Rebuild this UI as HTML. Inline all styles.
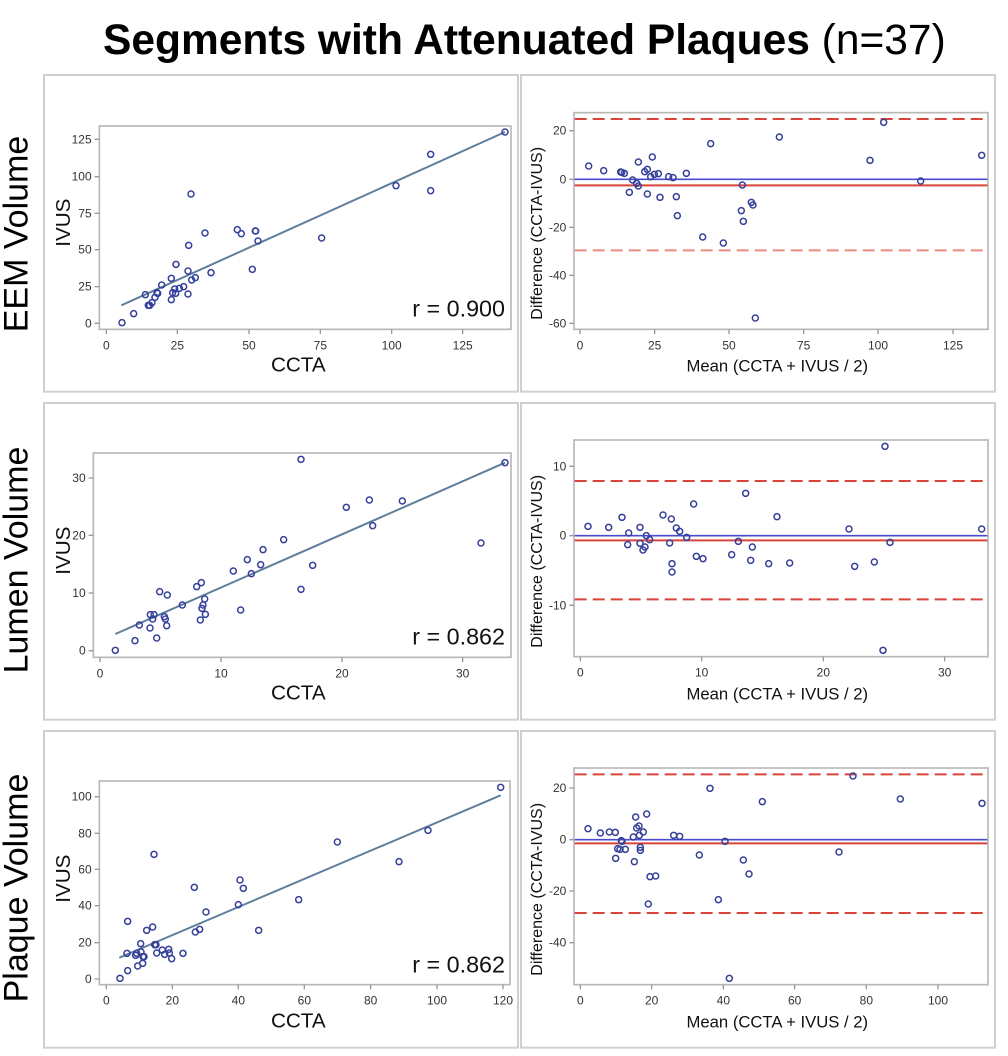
<!DOCTYPE html>
<html><head><meta charset="utf-8"><style>
html,body{margin:0;padding:0;background:#fff;}
body{width:1008px;height:1056px;position:relative;overflow:hidden;font-family:"Liberation Sans",Arial,sans-serif;}
.title{position:absolute;left:103px;top:16px;font-size:42.5px;white-space:nowrap;color:#000;line-height:50px;}
.rl{position:absolute;font-size:34px;white-space:nowrap;transform:translate(-50%,-50%) rotate(-90deg);color:#000;}
svg.p{position:absolute;}
</style></head><body>
<div class="title"><b>Segments with Attenuated Plaques</b> (n=37)</div>
<div class="rl" style="left:17px;top:234px">EEM Volume</div>
<div class="rl" style="left:17px;top:560px">Lumen Volume</div>
<div class="rl" style="left:17px;top:888px">Plaque Volume</div>

<!-- Row 1 -->
<svg class="p" id="L1" style="left:40px;top:70px" width="480" height="330" viewBox="0 0 1440 990" font-family="Liberation Sans, sans-serif">
<rect x="12" y="15" width="1422" height="950" fill="none" stroke="#d0d0d0" stroke-width="6"/>
<rect x="178" y="168" width="1235" height="610" fill="none" stroke="#b8b8b8" stroke-width="5"/>
<g font-size="36" fill="#333" text-anchor="end">
<text x="155" y="220">125</text><text x="155" y="332">100</text><text x="155" y="442">75</text><text x="155" y="551">50</text><text x="155" y="662">25</text><text x="155" y="772">0</text></g>
<g stroke="#999" stroke-width="4"><path d="M164 208H178M164 320H178M164 430H178M164 539H178M164 650H178M164 760H178"/>
<path d="M199 778V792M412 778V792M627 778V792M841 778V792M1055 778V792M1268 778V792"/></g>
<g font-size="36" fill="#333" text-anchor="middle"><text x="199" y="838">0</text><text x="412" y="838">25</text><text x="627" y="838">50</text><text x="841" y="838">75</text><text x="1055" y="838">100</text><text x="1268" y="838">125</text></g>
<text x="775" y="905" font-size="62" text-anchor="middle" fill="#111">CCTA</text>
<text transform="translate(90,458) rotate(-90)" font-size="62" text-anchor="middle" fill="#111">IVUS</text>
<text x="1395" y="740" font-size="70" text-anchor="end" fill="#111">r = 0.900</text>
<line x1="244" y1="706" x2="1395" y2="186" stroke="#5f7f9c" stroke-width="6"/>
<g class="pts"></g></svg>

<svg class="p" id="R1" style="left:518px;top:70px" width="490" height="330" viewBox="0 0 1470 990" font-family="Liberation Sans, sans-serif">
<rect x="9" y="15" width="1422" height="950" fill="none" stroke="#d0d0d0" stroke-width="6"/>
<rect x="168" y="128" width="1242" height="650" fill="none" stroke="#b8b8b8" stroke-width="5"/>
<g font-size="36" fill="#333" text-anchor="end"><text x="145" y="194">20</text><text x="145" y="340">0</text><text x="145" y="484">-20</text><text x="145" y="628">-40</text><text x="145" y="772">-60</text></g>
<g stroke="#999" stroke-width="4"><path d="M154 182H168M154 328H168M154 472H168M154 616H168M154 760H168"/>
<path d="M186 778V792M410 778V792M633 778V792M857 778V792M1080 778V792M1305 778V792"/></g>
<g font-size="36" fill="#333" text-anchor="middle"><text x="186" y="838">0</text><text x="410" y="838">25</text><text x="633" y="838">50</text><text x="857" y="838">75</text><text x="1080" y="838">100</text><text x="1305" y="838">125</text></g>
<text x="778" y="905" font-size="50" text-anchor="middle" fill="#111">Mean (CCTA + IVUS / 2)</text>
<text transform="translate(72,490) rotate(-90)" font-size="48" text-anchor="middle" fill="#111">Difference (CCTA-IVUS)</text>
<line x1="170" y1="147" x2="1408" y2="147" stroke="#d9443a" stroke-width="6" stroke-dasharray="36 18"/>
<line x1="170" y1="541" x2="1408" y2="541" stroke="#ea8b82" stroke-width="6" stroke-dasharray="36 18"/>
<line x1="170" y1="328" x2="1408" y2="328" stroke="#4a4ad0" stroke-width="5"/>
<line x1="170" y1="346" x2="1408" y2="346" stroke="#d9443a" stroke-width="6"/>
<g class="pts"></g></svg>

<!-- Row 2 -->
<svg class="p" id="L2" style="left:40px;top:398px" width="480" height="330" viewBox="0 0 1440 990" font-family="Liberation Sans, sans-serif">
<rect x="12" y="15" width="1422" height="950" fill="none" stroke="#d0d0d0" stroke-width="6"/>
<rect x="160" y="165" width="1253" height="613" fill="none" stroke="#b8b8b8" stroke-width="5"/>
<g font-size="36" fill="#333" text-anchor="end"><text x="137" y="252">30</text><text x="137" y="424">20</text><text x="137" y="597">10</text><text x="137" y="770">0</text></g>
<g stroke="#999" stroke-width="4"><path d="M146 240H160M146 412H160M146 585H160M146 758H160"/>
<path d="M180 778V792M543 778V792M906 778V792M1268 778V792"/></g>
<g font-size="36" fill="#333" text-anchor="middle"><text x="180" y="838">0</text><text x="543" y="838">10</text><text x="906" y="838">20</text><text x="1268" y="838">30</text></g>
<text x="775" y="905" font-size="62" text-anchor="middle" fill="#111">CCTA</text>
<text transform="translate(90,458) rotate(-90)" font-size="62" text-anchor="middle" fill="#111">IVUS</text>
<text x="1395" y="740" font-size="70" text-anchor="end" fill="#111">r = 0.862</text>
<line x1="226" y1="708" x2="1395" y2="194" stroke="#5f7f9c" stroke-width="6"/>
<g class="pts"></g></svg>

<svg class="p" id="R2" style="left:518px;top:398px" width="490" height="330" viewBox="0 0 1470 990" font-family="Liberation Sans, sans-serif">
<rect x="9" y="15" width="1422" height="950" fill="none" stroke="#d0d0d0" stroke-width="6"/>
<rect x="168" y="126" width="1242" height="650" fill="none" stroke="#b8b8b8" stroke-width="5"/>
<g font-size="36" fill="#333" text-anchor="end"><text x="145" y="217">10</text><text x="145" y="425">0</text><text x="145" y="634">-10</text></g>
<g stroke="#999" stroke-width="4"><path d="M154 205H168M154 413H168M154 622H168"/>
<path d="M187 776V790M551 776V790M916 776V790M1280 776V790"/></g>
<g font-size="36" fill="#333" text-anchor="middle"><text x="187" y="836">0</text><text x="551" y="836">10</text><text x="916" y="836">20</text><text x="1280" y="836">30</text></g>
<text x="778" y="905" font-size="50" text-anchor="middle" fill="#111">Mean (CCTA + IVUS / 2)</text>
<text transform="translate(72,490) rotate(-90)" font-size="48" text-anchor="middle" fill="#111">Difference (CCTA-IVUS)</text>
<line x1="170" y1="249" x2="1408" y2="249" stroke="#d9443a" stroke-width="6" stroke-dasharray="36 18"/>
<line x1="170" y1="604" x2="1408" y2="604" stroke="#d9443a" stroke-width="6" stroke-dasharray="36 18"/>
<line x1="170" y1="413" x2="1408" y2="413" stroke="#4a4ad0" stroke-width="5"/>
<line x1="170" y1="427" x2="1408" y2="427" stroke="#d9443a" stroke-width="6"/>
<g class="pts"></g></svg>

<!-- Row 3 -->
<svg class="p" id="L3" style="left:40px;top:726px" width="480" height="330" viewBox="0 0 1440 990" font-family="Liberation Sans, sans-serif">
<rect x="12" y="15" width="1422" height="950" fill="none" stroke="#d0d0d0" stroke-width="6"/>
<rect x="178" y="165" width="1232" height="611" fill="none" stroke="#b8b8b8" stroke-width="5"/>
<g font-size="36" fill="#333" text-anchor="end"><text x="155" y="224">100</text><text x="155" y="334">80</text><text x="155" y="442">60</text><text x="155" y="551">40</text><text x="155" y="662">20</text><text x="155" y="771">0</text></g>
<g stroke="#999" stroke-width="4"><path d="M164 212H178M164 322H178M164 430H178M164 539H178M164 650H178M164 759H178"/>
<path d="M199 776V790M397 776V790M595 776V790M793 776V790M992 776V790M1191 776V790M1389 776V790"/></g>
<g font-size="36" fill="#333" text-anchor="middle"><text x="199" y="836">0</text><text x="397" y="836">20</text><text x="595" y="836">40</text><text x="793" y="836">60</text><text x="992" y="836">80</text><text x="1191" y="836">100</text><text x="1389" y="836">120</text></g>
<text x="775" y="905" font-size="62" text-anchor="middle" fill="#111">CCTA</text>
<text transform="translate(90,458) rotate(-90)" font-size="62" text-anchor="middle" fill="#111">IVUS</text>
<text x="1395" y="740" font-size="70" text-anchor="end" fill="#111">r = 0.862</text>
<line x1="238" y1="695" x2="1382" y2="208" stroke="#5f7f9c" stroke-width="6"/>
<g class="pts"></g></svg>

<svg class="p" id="R3" style="left:518px;top:726px" width="490" height="330" viewBox="0 0 1470 990" font-family="Liberation Sans, sans-serif">
<rect x="9" y="15" width="1422" height="950" fill="none" stroke="#d0d0d0" stroke-width="6"/>
<rect x="168" y="126" width="1242" height="650" fill="none" stroke="#b8b8b8" stroke-width="5"/>
<g font-size="36" fill="#333" text-anchor="end"><text x="145" y="198">20</text><text x="145" y="353">0</text><text x="145" y="507">-20</text><text x="145" y="662">-40</text></g>
<g stroke="#999" stroke-width="4"><path d="M154 186H168M154 341H168M154 495H168M154 650H168"/>
<path d="M187 776V790M401 776V790M616 776V790M830 776V790M1045 776V790M1260 776V790"/></g>
<g font-size="36" fill="#333" text-anchor="middle"><text x="187" y="836">0</text><text x="401" y="836">20</text><text x="616" y="836">40</text><text x="830" y="836">60</text><text x="1045" y="836">80</text><text x="1260" y="836">100</text></g>
<text x="778" y="905" font-size="50" text-anchor="middle" fill="#111">Mean (CCTA + IVUS / 2)</text>
<text transform="translate(72,490) rotate(-90)" font-size="48" text-anchor="middle" fill="#111">Difference (CCTA-IVUS)</text>
<line x1="170" y1="145" x2="1408" y2="145" stroke="#d9443a" stroke-width="6" stroke-dasharray="36 18"/>
<line x1="170" y1="561" x2="1408" y2="561" stroke="#d9443a" stroke-width="6" stroke-dasharray="36 18"/>
<line x1="170" y1="341" x2="1408" y2="341" stroke="#4a4ad0" stroke-width="5"/>
<line x1="170" y1="352" x2="1408" y2="352" stroke="#d9443a" stroke-width="6"/>
<g class="pts"></g></svg>

<script>
var D={
L1:[[246,758],[281,731],[316,674],[325,706],[329,706],[336,698],[345,682],[351,668],[353,670],[365,645],[394,625],[394,689],[398,668],[404,657],[407,670],[408,583],[418,655],[431,650],[444,672],[444,603],[446,526],[455,630],[453,372],[466,623],[495,489],[513,608],[592,479],[604,491],[637,598],[646,483],[647,483],[654,513],[845,504],[1068,347],[1172,253],[1172,362],[1395,186]],
R1:[[212,288],[257,302],[308,306],[311,307],[319,310],[344,330],[356,340],[361,348],[361,276],[334,367],[380,305],[388,298],[388,372],[398,320],[403,261],[409,313],[421,311],[426,382],[452,320],[465,323],[475,380],[478,437],[505,310],[554,501],[578,221],[616,519],[670,422],[673,345],[676,454],[700,397],[705,405],[712,744],[784,201],[1056,271],[1097,157],[1208,333],[1391,256]],
L2:[[226,757],[285,728],[298,681],[330,690],[331,650],[338,663],[342,650],[350,720],[359,581],[373,656],[376,663],[380,683],[382,591],[427,621],[470,566],[481,666],[484,554],[486,631],[489,621],[494,603],[496,649],[580,519],[602,636],[622,485],[634,527],[662,500],[669,455],[731,425],[783,574],[783,184],[818,502],[919,328],[988,306],[998,383],[1087,309],[1323,435],[1395,194]],
R2:[[210,385],[272,388],[312,358],[329,440],[332,405],[366,436],[366,388],[375,456],[381,447],[385,413],[395,425],[435,351],[455,435],[460,363],[462,497],[462,522],[475,390],[485,400],[506,418],[527,318],[535,475],[555,482],[641,470],[661,430],[683,286],[698,487],[703,447],[752,497],[777,356],[815,495],[993,393],[1010,505],[1069,492],[1095,757],[1101,145],[1116,433],[1391,393]],
L3:[[240,757],[263,734],[261,682],[263,586],[287,688],[290,682],[293,720],[302,653],[303,678],[308,712],[309,692],[312,692],[320,613],[338,603],[342,385],[344,656],[348,656],[350,681],[367,672],[374,685],[386,670],[388,681],[395,698],[429,682],[463,484],[466,618],[479,610],[498,558],[595,536],[600,462],[610,487],[656,613],[776,521],[892,348],[1077,407],[1164,313],[1382,184]],
R3:[[210,308],[247,321],[274,318],[292,319],[293,397],[299,368],[306,370],[310,344],[312,346],[322,370],[346,333],[349,407],[353,273],[356,306],[363,300],[364,328],[367,364],[367,373],[376,318],[386,264],[391,534],[396,452],[413,450],[467,328],[485,331],[544,387],[576,187],[601,521],[621,346],[634,757],[676,402],[693,444],[733,227],[963,378],[1005,150],[1147,219],[1392,232]]};
for(var k in D){var g=document.querySelector('#'+k+' .pts'),s='';D[k].forEach(function(p){s+='<circle cx="'+p[0]+'" cy="'+p[1]+'" r="9" fill="none" stroke="#35409a" stroke-width="4.5"/>';});g.innerHTML=s;}
</script>
</body></html>
